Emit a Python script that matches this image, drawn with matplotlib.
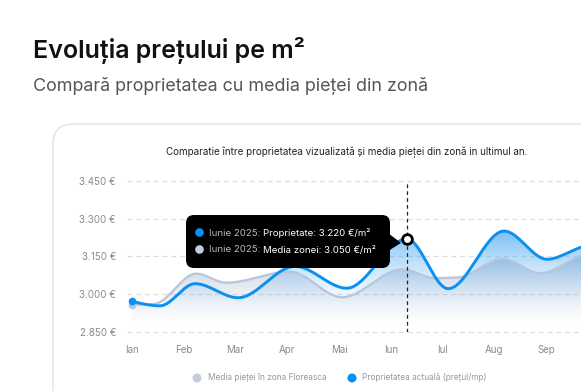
import numpy as np
import matplotlib
matplotlib.use("Agg")
import matplotlib.pyplot as plt
from matplotlib.patches import FancyBboxPatch, PathPatch, Polygon, Circle
from matplotlib.path import Path
from matplotlib.colors import to_rgb

plt.rcParams['font.family'] = ['Inter', 'DejaVu Sans']

# ---------------- data ----------------
months = ["Ian", "Feb", "Mar", "Apr", "Mai", "Iun", "Iul", "Aug", "Sep"]
# property (blue) – positions in months from January, values in €/m²
prop_pos = [0.0, 0.54, 1.22, 2.05, 3.15, 4.15, 5.31, 6.11, 7.19, 8.02, 8.68, 9.0]
prop_val = [2972, 2954, 3042, 2986, 3111, 3024, 3220, 3022, 3251, 3139, 3187, 3205]
# market average (grey)
avg_pos = [0.0, 0.44, 1.24, 1.82, 3.05, 4.06, 5.22, 5.86, 6.3, 7.17, 7.88, 8.68, 9.0]
avg_val = [2958, 2962, 3082, 3046, 3090, 2988, 3099, 3064, 3067, 3141, 3084, 3155, 3180]
yticks = [2850, 3000, 3150, 3300, 3450]
ytick_labels = ["2.850 €", "3.000 €", "3.150 €", "3.300 €", "3.450 €"]
hover_idx = 6
tooltip_lines = [("Iunie 2025: ", "Proprietate: 3.220 €/m²"),
                 ("Iunie 2025: ", "Media zonei: 3.050 €/m²")]
legend_labels = ["Media pieței în zona Floreasca", "Proprietatea actuală (prețul/mp)"]

BLUE = "#0a90f0"
GREY = "#b9c5da"
GREY_DOT = "#c3cde0"

W, H = 581, 391


def monotone(xs, ys, n=600):
    xs = np.asarray(xs, float); ys = np.asarray(ys, float)
    h = np.diff(xs); s = np.diff(ys) / h
    m = np.zeros_like(ys)
    for i in range(1, len(xs) - 1):
        p = (s[i - 1] * h[i] + s[i] * h[i - 1]) / (h[i - 1] + h[i])
        m[i] = (np.sign(s[i - 1]) + np.sign(s[i])) * min(abs(s[i - 1]), abs(s[i]), 0.5 * abs(p))
    m[0] = (3 * s[0] - m[1]) / 2
    m[-1] = (3 * s[-1] - m[-2]) / 2
    xx = np.linspace(xs[0], xs[-1], n)
    idx = np.clip(np.searchsorted(xs, xx) - 1, 0, len(xs) - 2)
    t = (xx - xs[idx]) / h[idx]
    h00 = 2 * t**3 - 3 * t**2 + 1; h10 = t**3 - 2 * t**2 + t
    h01 = -2 * t**3 + 3 * t**2; h11 = t**3 - t**2
    yy = h00 * ys[idx] + h10 * h[idx] * m[idx] + h01 * ys[idx + 1] + h11 * h[idx] * m[idx + 1]
    return xx, yy


def gradient_fill(ax, x, y, color, a_top, power, ybase, ytop, z):
    verts = np.vstack([np.c_[x, y], [[x[-1], ybase], [x[0], ybase]]])
    patch = PathPatch(Path(verts), facecolor='none', edgecolor='none')
    ax.add_patch(patch)
    img = np.zeros((200, 1, 4))
    img[:, :, :3] = to_rgb(color)
    img[:, 0, 3] = a_top * np.linspace(0, 1, 200) ** power
    im = ax.imshow(img, aspect='auto', origin='lower',
                   extent=[x.min(), x.max(), ybase, ytop], zorder=z, interpolation='bilinear')
    im.set_clip_path(patch)


fig = plt.figure(figsize=(W / 100, H / 100), dpi=100)

# overlay in pixel coords for decorations
deco = fig.add_axes([0, 0, 1, 1])
deco.set_xlim(0, W); deco.set_ylim(H, 0); deco.axis('off')
deco.set_zorder(0)

card = FancyBboxPatch((53, 124), 800, 400, boxstyle="round,pad=0,rounding_size=20",
                      facecolor='white', edgecolor='#e2e2e2', lw=1.0)
deco.add_patch(card)
deco.text(33, 58, "Evoluția prețului pe m²", fontsize=18, fontweight='semibold', color='#111111',
          va='baseline', ha='left')
deco.text(33, 91, "Compară proprietatea cu media pieței din zonă", fontsize=12.9, color='#555555',
          va='baseline', ha='left')
deco.text(347, 155, "Comparatie între proprietatea vizualizată și media pieței din zonă in ultimul an.",
          fontsize=7.05, color='#222222', ha='center', va='baseline')

# chart axes
px_per_month = 51.75
x0_px = 132
left_px, right_px = 127, 640
top_px, bot_px = 181, 332
xl = ((left_px - x0_px) / px_per_month, (right_px - x0_px) / px_per_month)
ax = fig.add_axes([left_px / W, 1 - bot_px / H, (right_px - left_px) / W, (bot_px - top_px) / H])
ax.set_zorder(5)
ax.set_xlim(*xl)
ax.set_ylim(yticks[0], yticks[-1])
ax.patch.set_alpha(0)
for s in ax.spines.values():
    s.set_visible(False)
ax.set_yticks(yticks)
ax.set_yticklabels(ytick_labels)
ax.set_xticks(range(len(months)))
ax.set_xticklabels(months)
ax.tick_params(length=0, colors='#8a8a8a', labelsize=7)
ax.tick_params(axis='y', pad=8)
ax.tick_params(axis='x', pad=9.5)
for yt in yticks:
    ax.axhline(yt, color='#dddddd', lw=0.9, ls=(0, (4, 3)), zorder=0, clip_on=False)

px, py = monotone(prop_pos, prop_val)
gx, gy = monotone(avg_pos, avg_val)

gradient_fill(ax, gx, gy, "#b4c1d9", 0.9, 1.5, 2860, max(avg_val), 1)
gradient_fill(ax, px, py, "#2c9cf2", 0.65, 1.8, 2880, max(prop_val), 2)
ax.plot(gx, gy, color=GREY, lw=1.6, zorder=3, solid_capstyle='round')
ax.plot(px, py, color=BLUE, lw=2.1, zorder=4, solid_capstyle='round')
ax.plot(prop_pos[0], prop_val[0], 'o', color=BLUE, ms=4.5, zorder=5)
ax.plot(avg_pos[0], avg_val[0], 'o', color=GREY, ms=4.5, zorder=4)

hx, hy = prop_pos[hover_idx], prop_val[hover_idx]
ax.axvline(hx, ymin=0, ymax=0.99, color='#222222', lw=0.9, ls=(0, (3, 2.5)), zorder=6)
ax.plot(hx, hy, 'o', ms=7, mfc='white', mec='black', mew=2, zorder=7)

# legend
deco.add_patch(Circle((197, 378), 4.5, facecolor=GREY_DOT, edgecolor='none'))
deco.text(208, 378, legend_labels[0], fontsize=6.0, color='#999999', va='center')
deco.add_patch(Circle((352, 378), 4.5, facecolor=BLUE, edgecolor='none'))
deco.text(362, 378, legend_labels[1], fontsize=6.0, color='#999999', va='center')

# tooltip overlay (pixel coords) above the chart
over = fig.add_axes([0, 0, 1, 1])
over.set_xlim(0, W); over.set_ylim(H, 0); over.axis('off'); over.patch.set_alpha(0)
over.set_zorder(10)
over.add_patch(FancyBboxPatch((186, 215), 204, 53, boxstyle="round,pad=0,rounding_size=8",
                              facecolor='black', edgecolor='none'))
over.add_patch(Polygon([[388, 233], [401, 243], [388, 251]], closed=True, facecolor='black',
                       edgecolor='none'))
fig.canvas.draw()
rend = fig.canvas.get_renderer()
for i, ((a, b), col) in enumerate(zip(tooltip_lines, [BLUE, GREY_DOT])):
    yy = 233 + 17 * i
    over.add_patch(Circle((199.5, yy - 0.5), 4.3, facecolor=col, edgecolor='none'))
    t1 = over.text(209, yy, a, color='#b8b8b8', fontsize=6.95, va='center', ha='left')
    bb = t1.get_window_extent(rend)
    over.text(209 + bb.width, yy, b, color='white', fontsize=6.95, va='center', ha='left')

fig.savefig("out.png", dpi=100)
